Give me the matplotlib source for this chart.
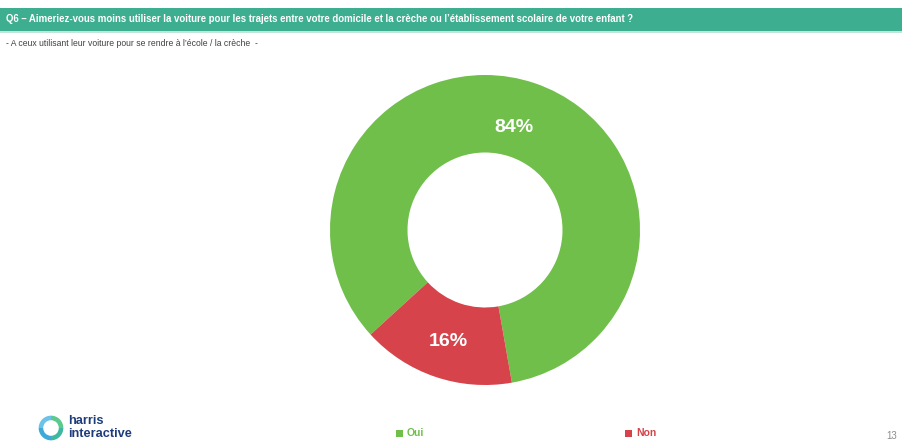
import matplotlib.pyplot as plt
from matplotlib.patches import Rectangle, Wedge

# data
labels = ['Oui', 'Non']
values = [84, 16]
colors = ['#70BF4B', '#D6434B']

title = ("Q6 \u2013 Aimeriez-vous moins utiliser la voiture pour les trajets entre votre domicile "
         "et la cr\u00e8che ou l\u2019\u00e9tablissement scolaire de votre enfant ?")
subtitle = "- A ceux utilisant leur voiture pour se rendre \u00e0 l\u2019\u00e9cole / la cr\u00e8che  -"

plt.rcParams['font.family'] = ['Liberation Sans', 'DejaVu Sans']

W, H = 903, 441
fig = plt.figure(figsize=(W / 100, H / 100), dpi=100)

def fx(px):
    return px / W

def fy(py):
    return 1 - py / H

# header bar
fig.patches.append(Rectangle((0, fy(31)), 1, 23 / H, transform=fig.transFigure,
                             facecolor='#3DAE8F', edgecolor='none'))
fig.patches.append(Rectangle((0, fy(32.5)), 1, 1.5 / H, transform=fig.transFigure,
                             facecolor='#BFE6D8', edgecolor='none'))
fig.text(fx(6), fy(19.5), title, color='white', fontsize=6.9, fontweight='bold',
         va='center', ha='left')
fig.text(fx(6), fy(43), subtitle, color='#404040', fontsize=6.2, va='center', ha='left')

# donut
cx, cy, r = 485, 230, 155
ax = fig.add_axes([fx(cx - r), fy(cy + r), 2 * r / W, 2 * r / H])
wedges, texts, autotexts = ax.pie(values, colors=colors, startangle=222.4, counterclock=False,
                                  wedgeprops=dict(width=0.5, edgecolor='none'),
                                  autopct='%.0f%%', pctdistance=0.73)
nudges = [(-0.05, -0.03), (0.0, -0.03)]
for t, (dx, dy) in zip(autotexts, nudges):
    t.set_color('white')
    t.set_fontsize(14)
    t.set_fontweight('bold')
    x, y = t.get_position()
    t.set_position((x + dx, y + dy))
ax.set_xlim(-1, 1)
ax.set_ylim(-1, 1)
ax.set_aspect('equal')
ax.axis('off')

# legend
leg_x = [396, 625]
for x, lab, c in zip(leg_x, labels, colors):
    fig.patches.append(Rectangle((fx(x), fy(437)), 7 / W, 7 / H, transform=fig.transFigure,
                                 facecolor=c, edgecolor='none'))
    fig.text(fx(x + 11), fy(433.5), lab, color=c, fontsize=7.5, fontweight='bold',
             va='center', ha='left')

# logo
lax = fig.add_axes([fx(38), fy(441), 26 / W, 26 / H])
lax.set_xlim(-1, 1)
lax.set_ylim(-1, 1)
lax.set_aspect('equal')
lax.axis('off')
logo_cols = ['#5CC98E', '#3FB8A0', '#3FA9D8', '#6BC3E8']
for i, c in enumerate(logo_cols):
    lax.add_patch(Wedge((0, 0), 0.95, 90 - i * 90 - 90, 90 - i * 90, width=0.35,
                        facecolor=c, edgecolor='none'))
fig.text(fx(68), fy(421.5), 'harris', color='#1E3C7B', fontsize=9.2, fontweight='bold',
         va='center', ha='left')
fig.text(fx(68), fy(434), 'interactive', color='#1E3C7B', fontsize=9.2, fontweight='bold',
         va='center', ha='left')

fig.text(fx(897), fy(436), '13', color='#8C8C8C', fontsize=7, va='center', ha='right')

fig.savefig('out.png', dpi=100)
